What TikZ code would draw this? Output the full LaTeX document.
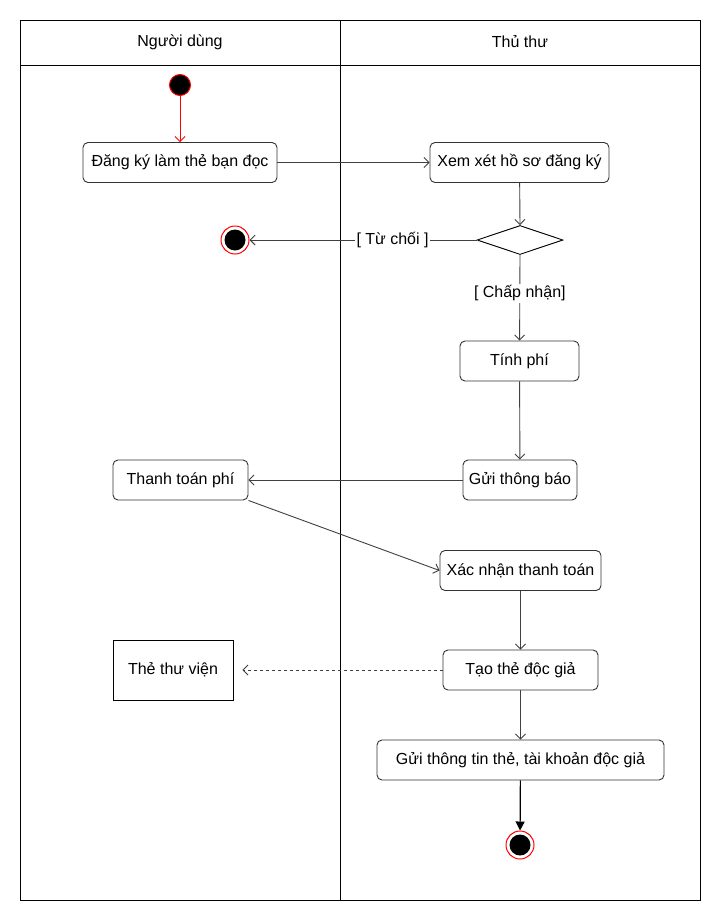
\documentclass[tikz,border=0pt]{standalone}
\usepackage{fontspec}
\setmainfont{Liberation Sans}
\usetikzlibrary{arrows.meta,shapes.geometric}
\tikzset{
  act/.style={draw=black!80, line width=0.9pt, rounded corners=5pt, fill=white, inner sep=0pt, font=\fontsize{16}{19}\selectfont, minimum height=40pt},
  obj/.style={draw=black, line width=0.9pt, fill=white, inner sep=0pt, font=\fontsize{16}{19}\selectfont},
  flow/.style={draw=black!75, line width=0.9pt, -{Straight Barb[length=5pt,width=10pt,line width=0.9pt]}},
  guard/.style={fill=white, inner sep=1.5pt, font=\fontsize{16}{19}\selectfont},
  lane/.style={font=\fontsize{16}{19}\selectfont},
  startnode/.style={circle, draw=red, line width=1pt, fill=black, minimum size=21pt, inner sep=0pt},
  endouter/.style={circle, draw=red, line width=1pt, fill=white, minimum size=28pt, inner sep=0pt},
  endinner/.style={circle, fill=black, minimum size=21pt, inner sep=0pt},
  choice/.style={diamond, draw=black, line width=0.9pt, fill=white, minimum width=86pt, minimum height=29pt, inner sep=0pt, aspect=3}
}
\begin{document}
\begin{tikzpicture}[x=1pt,y=-1pt]
\useasboundingbox (0,0) rectangle (723,924);
\fill[white] (0,0) rectangle (723,924);
% swimlanes
\draw[line width=1pt] (20,20) rectangle (700,900);
\draw[line width=1pt] (20,65) -- (700,65);
\draw[line width=1pt] (340,20) -- (340,900);
\node[lane] (l1) at (180,42) {Người dùng};
\node[lane] (l2) at (520,42) {Thủ thư};
% nodes
\node[startnode] (start) at (180,85) {};
\node[act, minimum width=194pt] (dk) at (180,162.5) {Đăng ký làm thẻ bạn đọc};
\node[act, minimum width=179pt] (xx) at (519.5,162.5) {Xem xét hồ sơ đăng ký};
\node[choice] (d) at (520,240) {};
\node[endouter] (end1) at (235,240) {};
\node[endinner] (end1i) at (235,240) {};
\node[act, minimum width=119pt] (tp) at (519.5,361) {Tính phí};
\node[act, minimum width=114pt] (gtb) at (520,480) {Gửi thông báo};
\node[act, minimum width=135pt] (ttp) at (180.5,480) {Thanh toán phí};
\node[act, minimum width=161pt] (xn) at (520.5,570.5) {Xác nhận thanh toán};
\node[act, minimum width=155pt] (tao) at (520.5,670) {Tạo thẻ độc giả};
\node[obj, minimum width=120pt, minimum height=60pt] (the) at (173,670) {Thẻ thư viện};
\node[act, minimum width=287pt] (gtt) at (520.5,760) {Gửi thông tin thẻ, tài khoản độc giả};
\node[endouter] (end2) at (520,845) {};
\node[endinner] (end2i) at (520,845) {};
% connectors
\draw[flow, draw=red] (start) -- (dk);
\draw[flow] (dk) -- (xx);
\draw[flow] (xx) -- (d.north);
\draw[flow] (d.west) -- node[guard, pos=0.37] (g1) {[ Từ chối ]} (end1);
\draw[flow] (d.south) -- node[guard, pos=0.45] (g2) {[ Chấp nhận]} (tp);
\draw[flow] (tp) -- (gtb);
\draw[flow] (gtb) -- (ttp);
\draw[flow] (ttp.south east) -- (xn.west);
\draw[flow] (xn) -- (tao);
\draw[flow, dashed, dash pattern=on 3pt off 3pt] (tao.west) -- ([xshift=9pt]the.east);
\draw[flow] (tao) -- (gtt);
\draw[draw=black, line width=1.2pt, -{Triangle[length=9pt,width=9pt]}] (gtt) -- (end2);
\end{tikzpicture}
\end{document}
